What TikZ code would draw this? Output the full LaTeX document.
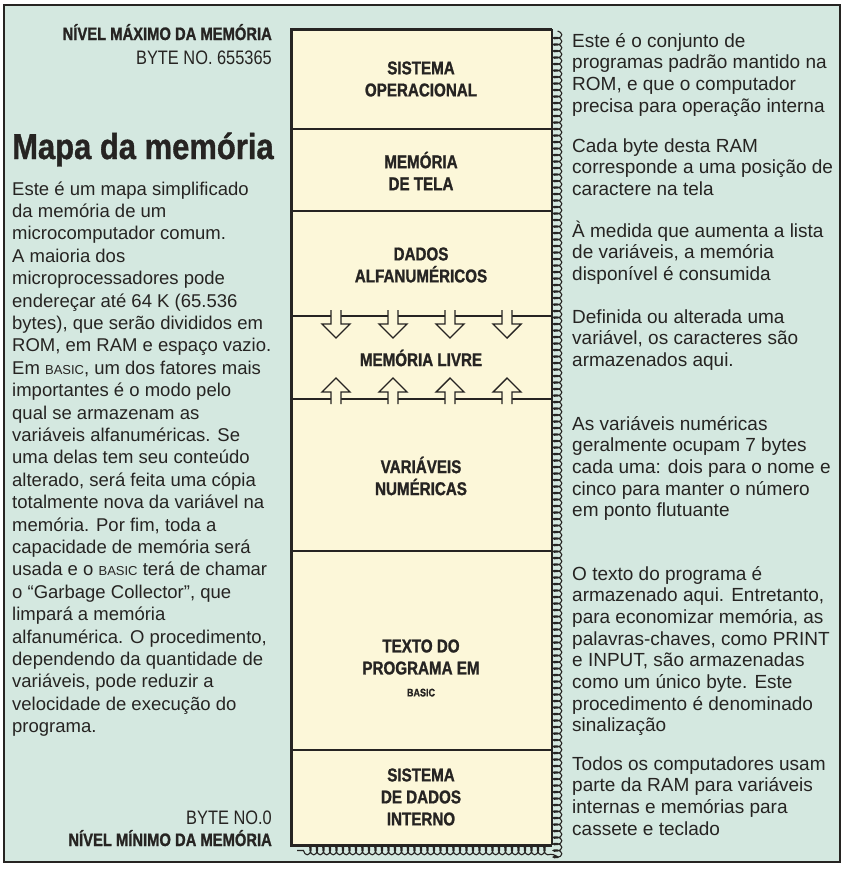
\documentclass[tikz,border=0pt]{standalone}
\usepackage{fontspec}
\setmainfont{Liberation Sans}
\newfontfamily\labelfont[FakeStretch=0.84]{Liberation Sans}
\newfontfamily\heavyfont[FakeStretch=0.82,FakeBold=1.2]{Liberation Sans}
\newfontfamily\titlefont[FakeStretch=0.86,FakeBold=1]{Liberation Sans}
\usetikzlibrary{decorations.pathmorphing}

\definecolor{mint}{RGB}{212,232,224}
\definecolor{cream}{RGB}{252,247,217}
\definecolor{ink}{RGB}{38,36,34}

\newcommand{\bsc}{{\fontsize{13}{13}\selectfont BASIC}}

\tikzset{
  bodytext/.style={anchor=base west, inner sep=0pt, align=left, text=ink, font=\fontsize{18.5}{22.4}\selectfont},
  notetext/.style={anchor=base west, inner sep=0pt, align=left, text=ink, font=\fontsize{19}{21.7}\selectfont},
  blocklabel/.style={inner sep=0pt, align=center, text=ink, font=\heavyfont\bfseries\fontsize{18.5}{22}\selectfont},
  levellabel/.style={anchor=base east, inner sep=0pt, text=ink, font=\heavyfont\bfseries\fontsize{18}{20}\selectfont},
  bytelabel/.style={anchor=base east, inner sep=0pt, text=ink, font=\labelfont\fontsize{19.5}{20}\selectfont},
  divider/.style={draw=ink, line width=1.3pt},
  freearrow/.style={draw=ink, line width=1.4pt, fill=cream, line join=miter},
}

\begin{document}
\begin{tikzpicture}[x=1pt,y=-1pt]
        \useasboundingbox (0,0) rectangle (845,870);
        \fill[white] (0,0) rectangle (845,870);
        % frame
        \path[draw=ink, line width=2pt, fill=mint](4,5)rectangle(840,862);
        % memory block
        \path[fill=cream](291,29)rectangle(552,845);
        \path[draw=ink, line width=1.1pt, decorate, decoration={coil, amplitude=4.3pt, segment length=6.5pt}](557.5,31)--(557.5,850.5)--(297,850.5);
        \path[draw=ink, line width=1.5pt](552,29)--(552,845);
        \path[draw=ink, line width=3pt, line join=miter](552,29)--(291,29)--(291,845)--(552,845);
        \foreach \y in {129,211,316,399,551,750}
            \path[divider](291,\y)--(552,\y);
        % free memory arrows
        \foreach \c in {336,393,450,507}{
            \path[freearrow](\c-5,310)--(\c-5,324)--(\c-14,324)--(\c,338)--(\c+14,324)--(\c+5,324)--(\c+5,310);
            \path[freearrow](\c-5,404)--(\c-5,392)--(\c-14,392)--(\c,378)--(\c+14,392)--(\c+5,392)--(\c+5,404);
        }
        % block labels
        \node[blocklabel] (sisop) at (421,79) {SISTEMA\\OPERACIONAL};
        \node[blocklabel] (memtela) at (421,171) {MEMÓRIA\\DE TELA};
        \node[blocklabel] (alfa) at (421,265) {DADOS\\ALFANUMÉRICOS};
        \node[blocklabel] (livre) at (421,358) {MEMÓRIA LIVRE};
        \node[blocklabel] (varnum) at (421,476) {VARIÁVEIS\\NUMÉRICAS};
        \node[blocklabel] (texto) at (421,668) {TEXTO DO\\PROGRAMA EM\\{\fontsize{11}{12}\selectfont BASIC}};
        \node[blocklabel] (sisdad) at (421,797) {SISTEMA\\DE DADOS\\INTERNO};
        % levels
        \node[levellabel] (maxlevel) at (272,40) {NÍVEL MÁXIMO DA MEMÓRIA};
        \node[bytelabel] (maxbyte) at (272,64) {BYTE NO. 655365};
        \node[bytelabel] (minbyte) at (272,824) {BYTE NO.0};
        \node[levellabel] (minlevel) at (272,846) {NÍVEL MÍNIMO DA MEMÓRIA};
        % title and text (base = last line)
        \node[anchor=base west, inner sep=0pt, text=ink, font=\titlefont\bfseries\fontsize{36}{40}\selectfont] (title) at (12,159) {Mapa da memória};
        \node[bodytext] (intro) at (12,732.6) {Este é um mapa simplificado\\da memória de um\\microcomputador comum.\\A maioria dos\\microprocessadores pode\\endereçar até 64 K (65.536\\bytes), que serão divididos em\\ROM, em RAM e espaço vazio.\\Em \bsc, um dos fatores mais\\importantes é o modo pelo\\qual se armazenam as\\variáveis alfanuméricas. Se\\uma delas tem seu conteúdo\\alterado, será feita uma cópia\\totalmente nova da variável na\\memória. Por fim, toda a\\capacidade de memória será\\usada e o \bsc\ terá de chamar\\o “Garbage Collector”, que\\limpará a memória\\alfanumérica. O procedimento,\\dependendo da quantidade de\\variáveis, pode reduzir a\\velocidade de execução do\\programa.};
        % notes
        \node[notetext] (notesisop) at (572,112.1) {Este é o conjunto de\\programas padrão mantido na\\ROM, e que o computador\\precisa para operação interna};
        \node[notetext] (notetela) at (572,195.4) {Cada byte desta RAM\\corresponde a uma posição de\\caractere na tela};
        \node[notetext] (notealfa) at (572,280.4) {À medida que aumenta a lista\\de variáveis, a memória\\disponível é consumida};
        \node[notetext] (notelivre) at (572,366.4) {Definida ou alterada uma\\variável, os caracteres são\\armazenados aqui.};
        \node[notetext] (notevarnum) at (572,516.8) {As variáveis numéricas\\geralmente ocupam 7 bytes\\cada uma: dois para o nome e\\cinco para manter o número\\em ponto flutuante};
        \node[notetext] (notetexto) at (572,731.9) {O texto do programa é\\armazenado aqui. Entretanto,\\para economizar memória, as\\palavras-chaves, como PRINT\\e INPUT, são armazenadas\\como um único byte. Este\\procedimento é denominado\\sinalização};
        \node[notetext] (notesisdad) at (572,835.1) {Todos os computadores usam\\parte da RAM para variáveis\\internas e memórias para\\cassete e teclado};
    \end{tikzpicture}
\end{document}
